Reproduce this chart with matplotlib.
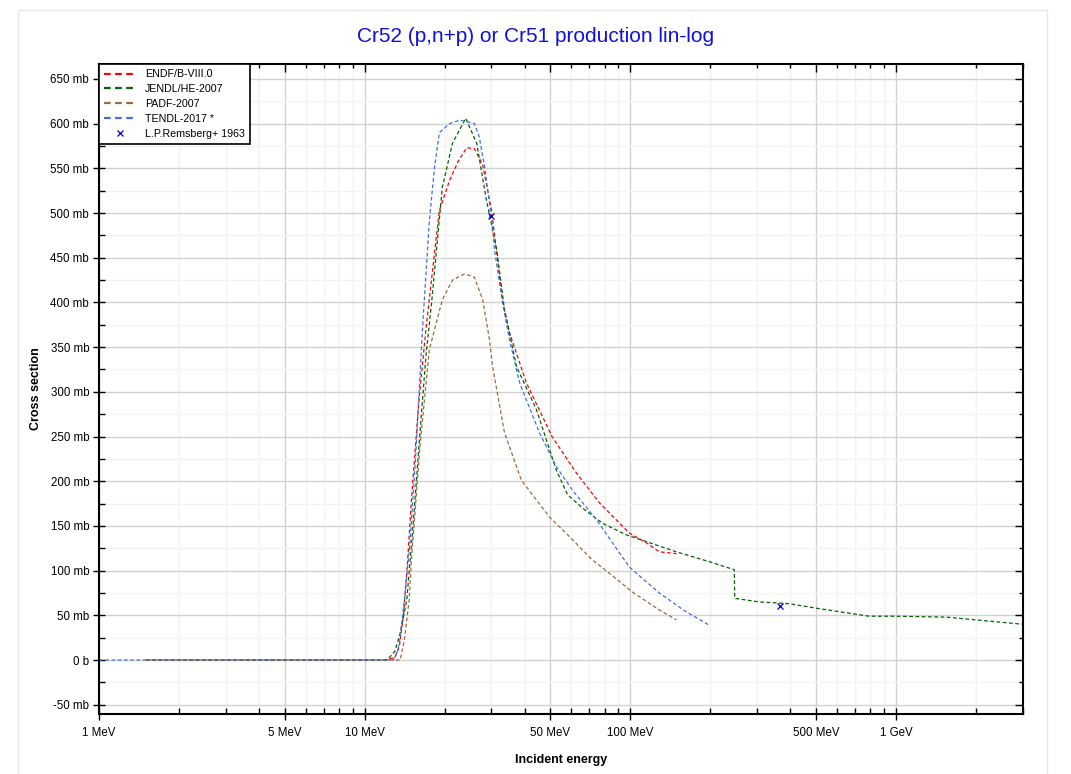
import numpy as np
import matplotlib.pyplot as plt
from matplotlib.ticker import FixedLocator, FuncFormatter, NullFormatter
from matplotlib.patches import Rectangle

plt.rcParams['font.family'] = ['Liberation Sans', 'DejaVu Sans']

# ENDF/B-VIII.0
endf_e = [1.5, 12.0, 13.0, 13.5, 14.0, 14.5, 15.0, 16.0, 17.0, 17.5, 19.1, 20.9, 22.5, 24.2, 25.9, 27.8, 30.0, 33.0, 35.1, 40.6, 50.9, 62.7, 76.4, 99.1, 115, 128.5, 149]
endf_s = [0, 0, 3, 15, 50, 110, 180, 290, 370, 403, 503, 537, 558, 573, 572, 554, 503, 403, 366, 310, 249, 209, 176, 142, 131, 121, 119]

# JENDL/HE-2007
jendl_e = [1.5, 12.0, 12.4, 13.0, 13.6, 14.4, 15.2, 16.2, 17.0, 17.9, 19.6, 21.4, 24.0, 26.4, 28.7, 31.4, 33.6, 37.3, 44.3, 52.7, 58, 66, 78.5, 96.6, 149, 198, 246, 247, 305, 396, 500, 791, 1000, 1542, 3000]
jendl_s = [0, 0, 3, 10, 30, 67, 150, 260, 340, 403, 529, 578, 606, 578, 515, 459, 391, 328, 280, 212, 185, 170, 153, 140, 121, 110, 101, 69, 65, 63, 58, 49, 49, 48, 40]

# PADF-2007
padf_e = [1.5, 12.5, 13.6, 14.1, 14.7, 15.0, 16.1, 17.5, 19.6, 21.4, 23.8, 25.9, 27.8, 29.5, 30.3, 33.6, 38.9, 49.6, 59, 71.9, 83.4, 101.8, 128.5, 149]
padf_s = [0, 0, 0, 22, 67, 112, 235, 347, 403, 425, 432, 428, 403, 358, 328, 254, 201, 160, 138, 112, 97, 76, 56, 45]

# TENDL-2017
tendl_e = [1.0, 12.8, 13.3, 13.6, 14.1, 14.8, 15.5, 16.5, 17.5, 18.3, 19.1, 20.9, 22.8, 25.9, 27.0, 28.3, 30.3, 30.8, 33.0, 35.1, 38.3, 45.5, 52.7, 60.5, 74.5, 99.1, 128.5, 160, 198]
tendl_s = [0, 0, 10, 25, 67, 130, 220, 370, 490, 550, 590, 600, 604, 600, 585, 551, 484, 459, 400, 358, 310, 254, 216, 190, 157, 104, 75, 55, 39]

# L.P.Remsberg+ 1963
exp_e = [29.8, 366]
exp_s = [497, 60]

xmaj = [1, 5, 10, 50, 100, 500, 1000]
xmin = [m * d for d in [1, 10, 100, 1000] for m in range(2, 10) if m != 5 and m * d <= 3000]
ymaj = np.arange(-50, 651, 50)
ymin = np.arange(-50, 651, 25)

fig = plt.figure(figsize=(10.71, 7.74), dpi=100)
pos = [0.0924, 0.0775, 0.8627, 0.8398]

ax = fig.add_axes(pos, zorder=1)

dash = (0, (3, 2))
ax.plot(endf_e, endf_s, color='#ff0000', ls=dash, lw=0.9, label='ENDF/B-VIII.0')
ax.plot(jendl_e, jendl_s, color='#006400', ls=dash, lw=0.9, label='JENDL/HE-2007')
ax.plot(padf_e, padf_s, color='#9c6b3c', ls=dash, lw=0.9, label='PADF-2007')
ax.plot(tendl_e, tendl_s, color='#3f6fe8', ls=dash, lw=0.9, label='TENDL-2017 *')
ax.plot(exp_e, exp_s, 'x', color='#0000cc', ms=5, mew=0.9, label='L.P.Remsberg+ 1963')

ax.set_xscale('log')
ax.set_xlim(1, 3000)
ax.set_ylim(-60.4, 666.7)

ax.xaxis.set_major_locator(FixedLocator(xmaj))
ax.xaxis.set_minor_locator(FixedLocator(xmin))
ax.xaxis.set_minor_formatter(NullFormatter())

def xfmt(v, pos):
    if v >= 1000:
        return '%g GeV' % (v / 1000)
    return '%g MeV' % v
ax.xaxis.set_major_formatter(FuncFormatter(xfmt))

def yfmt(v, pos):
    if v == 0:
        return '0 b'
    return '%d mb' % v
ax.yaxis.set_major_locator(FixedLocator(ymaj))
ax.yaxis.set_minor_locator(FixedLocator(ymin))
ax.yaxis.set_major_formatter(FuncFormatter(yfmt))

ax.grid(True, which='major', color='#d2d2d2', lw=1.0)
ax.grid(True, which='minor', color='#f3f3f3', lw=1.0)
ax.set_axisbelow(True)

ax.tick_params(which='both', labelsize=8.3, width=1)
ax.tick_params(which='major', direction='inout', length=8, pad=3)
ax.tick_params(axis='x', which='major', pad=5)
ax.tick_params(which='minor', direction='in', length=4)
for s in ax.spines.values():
    s.set_linewidth(1.5)

# transparent axes on top, for the inward ticks on top and right (and the legend)
ax2 = fig.add_axes(pos, frameon=False, zorder=2)
ax2.patch.set_visible(False)
ax2.set_xscale('log')
ax2.set_xlim(ax.get_xlim())
ax2.set_ylim(ax.get_ylim())
ax2.xaxis.set_major_locator(FixedLocator(xmaj))
ax2.xaxis.set_minor_locator(FixedLocator(xmin))
ax2.yaxis.set_major_locator(FixedLocator(ymaj))
ax2.yaxis.set_minor_locator(FixedLocator(ymin))
ax2.tick_params(which='both', direction='in', width=1, bottom=False, left=False,
                top=True, right=True, labelbottom=False, labelleft=False)
ax2.tick_params(which='major', length=6)
ax2.tick_params(which='minor', length=3)

ax.set_xlabel('Incident energy', fontsize=9, fontweight='bold', labelpad=11)
ax.set_ylabel('Cross section', fontsize=9, fontweight='bold', labelpad=6)

fig.text(0.5, 0.953, 'Cr52 (p,n+p) or Cr51 production lin-log', ha='center', va='center',
         fontsize=15, color='#1010e0')

handles, labels = ax.get_legend_handles_labels()
leg = ax2.legend(handles, labels, loc='upper left', fontsize=7.7, fancybox=False, framealpha=1,
                 edgecolor='black', borderaxespad=0, handlelength=3, labelspacing=0.45,
                 borderpad=0.5)
leg.get_frame().set_linewidth(1.2)
for h in leg.get_lines():
    h.set_linewidth(1.6)

fig.patches.append(Rectangle((0.017, -0.01), 0.961, 0.997, transform=fig.transFigure,
                             fill=False, edgecolor='#e8e8e8', lw=1))

fig.savefig('out.png', dpi=100)
